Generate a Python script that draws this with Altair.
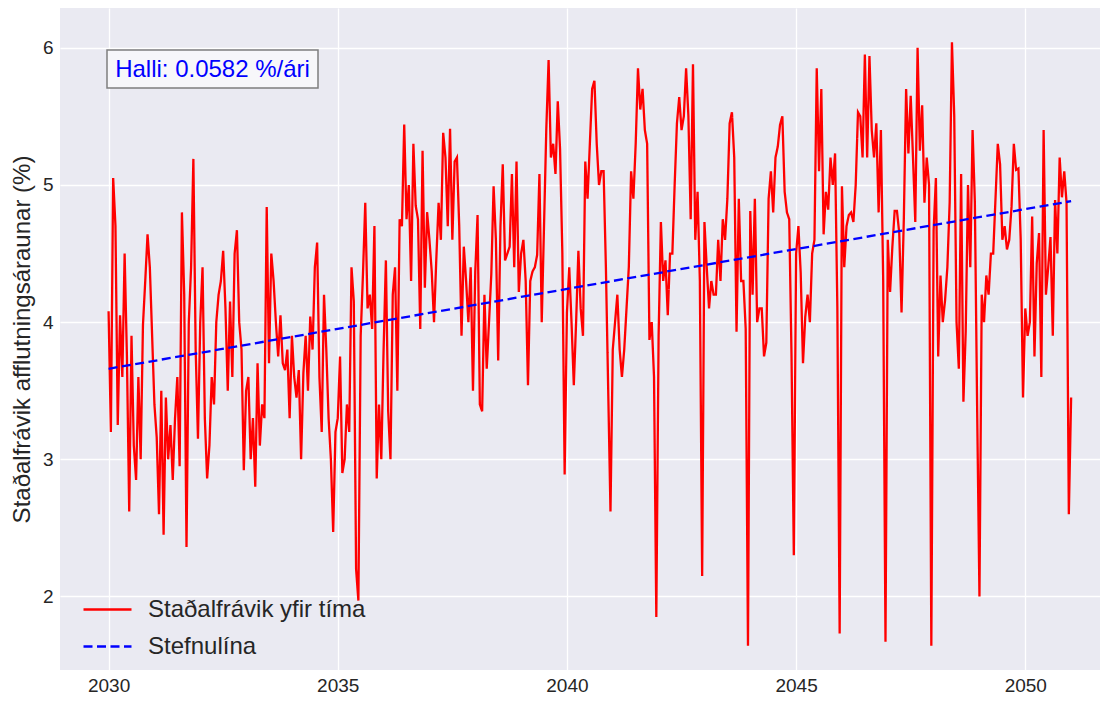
import altair as alt
import pandas as pd

# Standard deviation values, 20 readings per year
sd_2030 = [4.08, 3.2, 5.05, 4.7, 3.25, 4.05, 3.6, 4.5, 3.75, 2.62, 3.9, 3.1, 2.85, 3.6, 3.0, 3.98, 4.3, 4.64, 4.4, 3.9]
sd_2031 = [3.4, 3.16, 2.6, 3.5, 2.45, 3.45, 3.0, 3.25, 2.85, 3.3, 3.6, 2.95, 4.8, 4.2, 2.36, 4.0, 4.4, 5.19, 3.8, 3.15]
sd_2032 = [4.0, 4.4, 3.3, 2.86, 3.1, 3.6, 3.4, 4.0, 4.2, 4.3, 4.52, 4.1, 3.5, 4.15, 3.6, 4.5, 4.67, 4.0, 3.8, 2.92]
sd_2033 = [3.5, 3.6, 3.0, 3.3, 2.8, 3.7, 3.1, 3.4, 3.3, 4.84, 3.7, 4.5, 4.3, 4.0, 3.75, 4.05, 3.7, 3.65, 3.8, 3.3]
sd_2034 = [3.9, 3.6, 3.45, 3.65, 3.0, 3.63, 3.9, 3.5, 4.04, 3.8, 4.4, 4.58, 3.6, 3.2, 4.2, 3.8, 3.3, 3.0, 2.47, 3.2]
sd_2035 = [3.3, 3.75, 2.9, 3.0, 3.4, 3.2, 4.4, 4.15, 2.2, 1.97, 3.9, 4.35, 4.87, 4.1, 4.2, 3.95, 4.7, 2.86, 3.4, 3.0]
sd_2036 = [3.8, 4.45, 3.35, 3.0, 4.2, 4.4, 3.5, 4.75, 4.7, 5.44, 4.75, 5.0, 4.3, 5.3, 4.85, 4.75, 3.95, 5.25, 4.25, 4.8]
sd_2037 = [4.6, 4.37, 4.0, 4.46, 4.87, 4.6, 5.38, 5.2, 4.7, 5.41, 4.6, 5.17, 5.2, 4.7, 3.9, 4.55, 4.3, 4.0, 4.4, 3.5]
sd_2038 = [4.37, 4.78, 3.4, 3.35, 4.2, 3.66, 4.0, 4.35, 4.99, 4.6, 3.72, 4.7, 5.15, 4.45, 4.5, 4.55, 5.08, 4.4, 5.17, 4.22]
sd_2039 = [4.5, 4.6, 4.3, 3.54, 4.3, 4.37, 4.4, 4.49, 5.08, 4.0, 4.7, 5.41, 5.91, 5.2, 5.3, 5.08, 5.61, 5.26, 4.5, 2.89]
sd_2040 = [4.07, 4.4, 4.0, 3.54, 4.0, 4.52, 4.1, 3.9, 5.17, 4.9, 5.3, 5.7, 5.76, 5.3, 5.0, 5.1, 5.1, 4.4, 3.51, 2.62]
sd_2041 = [3.8, 4.0, 4.2, 3.8, 3.6, 3.8, 4.1, 4.4, 5.1, 4.9, 5.3, 5.85, 5.55, 5.7, 5.4, 5.3, 3.87, 4.0, 3.6, 1.85]
sd_2042 = [3.9, 4.73, 4.3, 4.45, 4.05, 4.5, 4.5, 5.0, 5.45, 5.64, 5.4, 5.5, 5.85, 5.5, 4.75, 5.88, 4.6, 4.95, 4.3, 2.15]
sd_2043 = [4.73, 4.4, 4.1, 4.3, 4.2, 4.2, 4.6, 4.3, 4.75, 4.6, 4.9, 5.45, 5.53, 5.2, 3.93, 4.9, 4.3, 4.3, 3.95, 1.64]
sd_2044 = [4.81, 4.2, 4.9, 4.0, 4.1, 4.1, 3.75, 3.85, 4.9, 5.1, 4.8, 5.2, 5.28, 5.44, 5.5, 4.95, 4.8, 4.75, 3.75, 2.3]
sd_2045 = [4.5, 4.7, 4.36, 3.7, 4.04, 4.2, 4.0, 4.5, 4.6, 5.85, 5.1, 5.7, 4.64, 4.95, 4.82, 5.2, 5.0, 5.23, 4.1, 1.73]
sd_2046 = [4.99, 4.4, 4.7, 4.78, 4.8, 4.73, 5.0, 5.53, 5.5, 5.2, 5.95, 5.2, 5.94, 5.4, 5.2, 5.45, 4.8, 5.4, 4.3, 1.67]
sd_2047 = [4.6, 4.22, 4.55, 4.81, 4.81, 4.65, 4.07, 4.75, 5.7, 5.23, 5.65, 5.2, 4.73, 6.0, 5.25, 5.58, 4.87, 5.2, 5.0, 1.64]
sd_2048 = [4.67, 5.05, 3.75, 4.34, 4.0, 4.16, 4.4, 4.87, 6.04, 5.5, 4.0, 3.66, 5.08, 3.42, 3.93, 5.0, 4.4, 5.4, 4.87, 3.36]
sd_2049 = [2.0, 4.2, 4.0, 4.34, 4.2, 4.5, 4.5, 4.9, 5.3, 5.15, 4.6, 4.7, 4.53, 4.6, 4.84, 5.3, 5.11, 5.12, 4.6, 3.45]
sd_2050 = [4.1, 3.9, 4.0, 4.77, 3.75, 4.43, 4.65, 3.6, 5.4, 4.2, 4.4, 4.62, 3.9, 4.89, 4.5, 5.2, 4.91, 5.1, 4.87, 2.6]
sd_end = [3.45]

start_year = 2030
readings_per_year = 20

# Trend line (slope shown in the annotation)
trend_years = [2030.0, 2051.0]
trend_values = [3.66, 4.882]
slope_text = "Halli: 0.0582 %/ári"

series_sd = "Staðalfrávik yfir tíma"
series_trend = "Stefnulína"

x_ticks = [2030, 2035, 2040, 2045, 2050]
y_ticks = [2, 3, 4, 5, 6]

all_sd = (sd_2030 + sd_2031 + sd_2032 + sd_2033 + sd_2034 + sd_2035 + sd_2036 +
          sd_2037 + sd_2038 + sd_2039 + sd_2040 + sd_2041 + sd_2042 + sd_2043 +
          sd_2044 + sd_2045 + sd_2046 + sd_2047 + sd_2048 + sd_2049 + sd_2050 + sd_end)

rows = []
for i, v in enumerate(all_sd):
    rows.append({"year": start_year + i / readings_per_year, "value": v,
                 "series": series_sd, "order": i})
for j, (yr, v) in enumerate(zip(trend_years, trend_values)):
    rows.append({"year": yr, "value": v, "series": series_trend, "order": j})
df = pd.DataFrame(rows)

FONT = "Liberation Sans"
W, H = 1040, 662

legend_cfg = dict(title=None, orient="none", legendX=34, legendY=588,
                  symbolType="M-2,0H2", symbolSize=576, symbolStrokeWidth=2.3,
                  labelFontSize=24, labelFont=FONT, labelColor="#262626",
                  labelOffset=27, labelLimit=500, rowPadding=11, padding=0)

lines = alt.Chart(df).mark_line(strokeWidth=2.3).encode(
    x=alt.X("year:Q", scale=alt.Scale(domain=[2028.94, 2051.63], nice=False, zero=False),
            axis=alt.Axis(values=x_ticks, format="d", title=None, labelPadding=6)),
    y=alt.Y("value:Q", scale=alt.Scale(domain=[1.464, 6.29], nice=False, zero=False),
            axis=alt.Axis(values=y_ticks, format="d", title="Staðalfrávik afflutningsáraunar (%)",
                          labelPadding=7, titlePadding=8)),
    color=alt.Color("series:N",
                    scale=alt.Scale(domain=[series_sd, series_trend], range=["#ff0000", "#0000ff"]),
                    legend=alt.Legend(**legend_cfg)),
    strokeDash=alt.StrokeDash("series:N",
                              scale=alt.Scale(domain=[series_sd, series_trend], range=[[1, 0], [9, 4.5]]),
                              legend=alt.Legend(**legend_cfg)),
    detail="series:N",
    order="order:Q",
)

box = alt.Chart(alt.Data(values=[{}])).mark_rect(
    fill="#f7f7fa", stroke="#7f7f7f", strokeWidth=1.5
).encode(x=alt.value(47), x2=alt.value(258), y=alt.value(42), y2=alt.value(80))

label = alt.Chart(alt.Data(values=[{}])).mark_text(
    text=slope_text, font=FONT, fontSize=24, color="#0000ff", align="center", baseline="middle"
).encode(x=alt.value(152.5), y=alt.value(61.5))

chart = alt.layer(lines, box, label).properties(
    width=W, height=H, padding={"left": 2, "top": 0, "right": 0, "bottom": 0},
    background="#ffffff"
).configure_view(fill="#eaeaf2", stroke=None).configure_axis(
    grid=True, gridColor="#ffffff", gridWidth=1.3, domain=False, ticks=False,
    labelFont=FONT, labelFontSize=19, labelColor="#262626",
    titleFont=FONT, titleFontSize=24, titleFontWeight="normal", titleColor="#262626"
)

chart.save("out.html", embed_options={"renderer": "svg", "actions": False})
